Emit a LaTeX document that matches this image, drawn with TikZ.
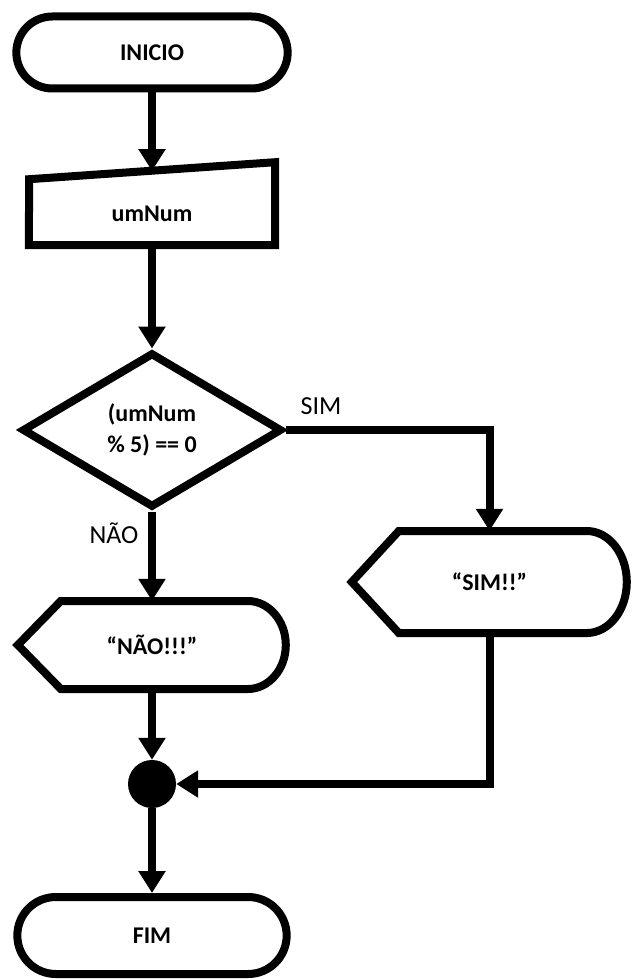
\documentclass[tikz,border=0pt]{standalone}
\usepackage{fontspec}
\setmainfont{Carlito}
\usetikzlibrary{shapes.geometric,shapes.misc,arrows.meta}

\begin{document}
\begin{tikzpicture}[x=1pt,y=-1pt,
  every node/.style={font=\bfseries\fontsize{24}{31}\selectfont},
  linha/.style={line width=8pt},
  seta/.style={line width=8pt,-{Triangle[length=22pt,width=26pt]}},
  terminal/.style={rounded rectangle,draw,line width=8pt,minimum width=278pt,minimum height=72pt},
  caixa/.style={inner sep=0pt,minimum width=#1},
  rotulo/.style={font=\fontsize{26}{30}\selectfont}]

\useasboundingbox (0,0) rectangle (632,979);

% 开始
\node[terminal] (inicio) at (152,52.5) {INICIO};

% 输入
\node[caixa=246pt,minimum height=62pt] (umNum) at (152,214) {umNum};
\draw[linha] (umNum.south west) -- (umNum.south east) -- ++(0,-83) -- ++(-246,17) -- cycle;
\coordinate (umNumTopo) at (152,171);

% 判断
\node[diamond,draw,line width=8pt,inner sep=0pt,minimum width=260pt,minimum height=155pt,align=center]
  (decisao) at (152,430) {(umNum\\ \% 5) == 0};

% 输出 SIM
\node[caixa=275pt,minimum height=102pt] (sim) at (489.5,582) {“SIM!!”};
\draw[linha] (sim.west) -- ++(47,-51) -- ++(188,0)
  arc[start angle=-90,end angle=90,x radius=40,y radius=51] -- ++(-188,0) -- cycle;

% 输出 NÃO
\node[caixa=268pt,minimum height=88pt] (nao) at (152,645) {“NÃO!!!”};
\draw[linha] (nao.west) -- ++(43,-44) -- ++(187,0)
  arc[start angle=-90,end angle=90,x radius=38,y radius=44] -- ++(-187,0) -- cycle;

% 汇合点
\node[circle,fill,inner sep=0pt,minimum size=48pt] (juncao) at (152,784) {};

% 结束
\node[terminal,minimum width=276pt,minimum height=77pt] (fim) at (152,935.5) {FIM};

% 画箭头
\draw[seta] (inicio.south) -- (umNumTopo);
\draw[seta] (umNum.south) -- (decisao.north);
\draw[seta] (decisao.east) -| (sim.north);
\draw[seta] (decisao.south) -- (nao.north);
\draw[seta] (nao.south) -- (juncao.north);
\draw[seta] (sim.south) |- (juncao.east);
\draw[seta] (juncao.south) -- (fim.north);

% 标记文字
\node[rotulo] (lsim) at (321,406) {SIM};
\node[rotulo] (lnao) at (114,533) {NÃO};

\end{tikzpicture}
\end{document}
